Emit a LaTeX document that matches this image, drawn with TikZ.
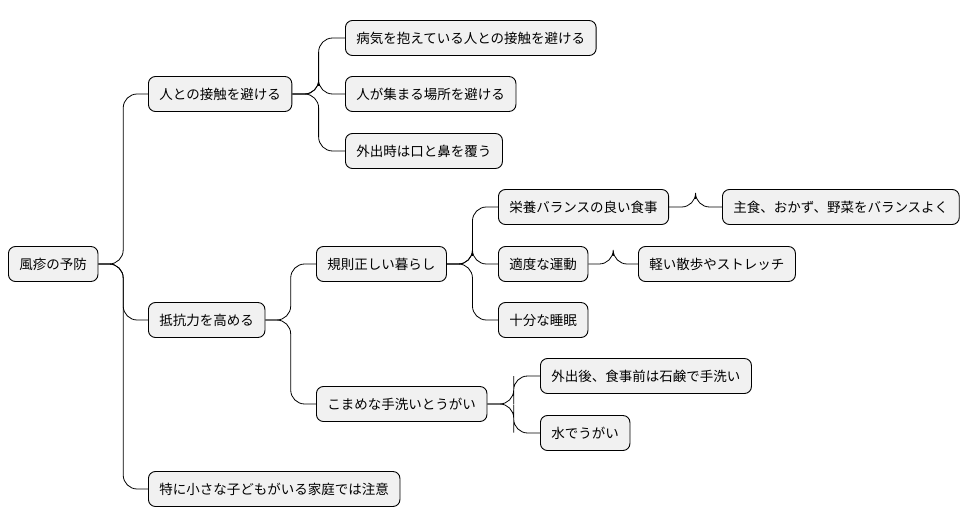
\documentclass[tikz,border=0pt]{standalone}
\usepackage{fontspec}
\setmainfont{Noto Sans CJK JP}
\usetikzlibrary{calc}
\definecolor{nodefill}{HTML}{F1F1F1}
\begin{document}
\begin{tikzpicture}[x=1pt,y=-1pt,
  box/.style={draw=black,fill=nodefill,rounded corners=7pt,line width=0.9pt,minimum height=35pt,inner xsep=11pt,anchor=west,font=\fontsize{13.5}{15}\selectfont},
  con/.style={draw=black,line width=0.8pt,rounded corners=14pt}]
\useasboundingbox (0,0) rectangle (978,527);
\node[box] (root) at (8,264) {風疹の予防};
\node[box] (a) at (148,94) {人との接触を避ける};
\node[box] (a1) at (345,38) {病気を抱えている人との接触を避ける};
\node[box] (a2) at (345,94) {人が集まる場所を避ける};
\node[box] (a3) at (345,151) {外出時は口と鼻を覆う};
\node[box] (b) at (148,320) {抵抗力を高める};
\node[box] (b1) at (316,264) {規則正しい暮らし};
\node[box] (b11) at (498,207) {栄養バランスの良い食事};
\node[box] (b111) at (722,207) {主食、おかず、野菜をバランスよく};
\node[box] (b12) at (498,264) {適度な運動};
\node[box] (b121) at (638,264) {軽い散歩やストレッチ};
\node[box] (b13) at (498,320) {十分な睡眠};
\node[box] (b2) at (316,404) {こまめな手洗いとうがい};
\node[box] (b21) at (540,376) {外出後、食事前は石鹸で手洗い};
\node[box] (b22) at (540,433) {水でうがい};
\node[box] (c) at (148,489) {特に小さな子どもがいる家庭では注意};
\foreach \p/\c in {root/a,root/b,root/c,a/a1,a/a2,a/a3,b/b1,b/b2,b1/b11,b1/b12,b1/b13,b11/b111,b12/b121,b2/b21,b2/b22}
  \draw[con] (\p.east) -| ($(\p.east)!0.5!(\c.west)$) |- (\c.west);
\end{tikzpicture}
\end{document}
